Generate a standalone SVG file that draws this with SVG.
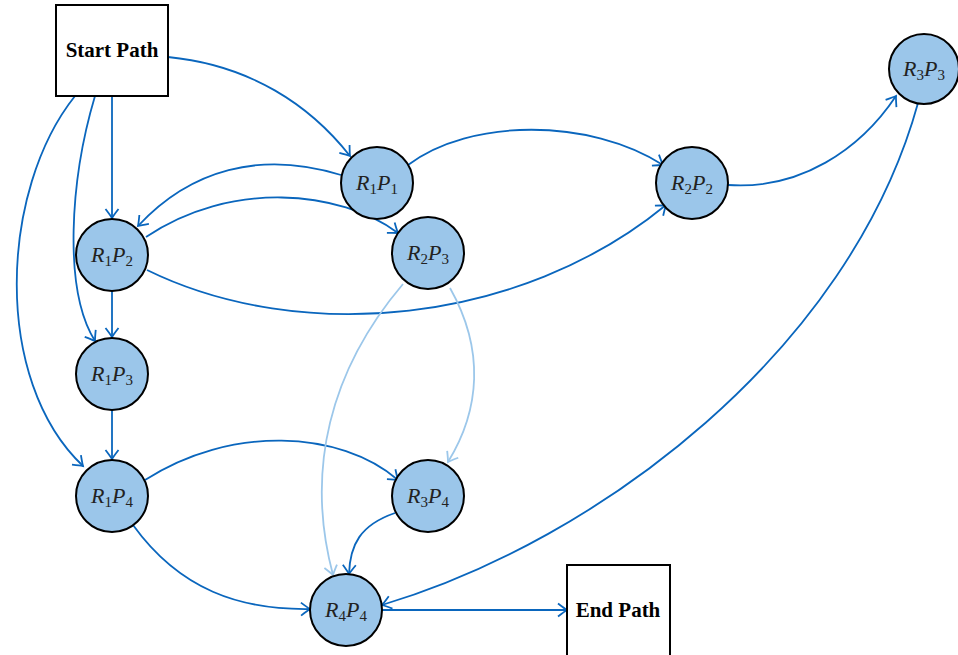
<svg xmlns="http://www.w3.org/2000/svg" width="958" height="655" viewBox="0 0 958 655">
<style>
.e{fill:none;stroke:#0a66bd;stroke-width:1.8}
.l{fill:none;stroke:#9cc7ea;stroke-width:1.8}
.n circle{fill:#9bc6ea;stroke:#000;stroke-width:2}
.b rect{fill:#fff;stroke:#000;stroke-width:2}
.t{font-family:"Liberation Serif",serif;font-style:italic;font-size:22px;fill:#222;text-anchor:middle}
.s{font-style:normal;font-size:15px}
.bt{font-family:"Liberation Serif",serif;font-weight:bold;font-size:21px;fill:#000;text-anchor:middle}
</style>
<defs>
<marker id="a" markerWidth="14" markerHeight="14" orient="auto" markerUnits="userSpaceOnUse" overflow="visible"><path d="M-9,-6.5 Q-2.5,-1.5 0,0 Q-2.5,1.5 -9,6.5" fill="none" stroke="#0a66bd" stroke-width="1.8"/></marker>
<marker id="al" markerWidth="14" markerHeight="14" orient="auto" markerUnits="userSpaceOnUse" overflow="visible"><path d="M-9,-6.5 Q-2.5,-1.5 0,0 Q-2.5,1.5 -9,6.5" fill="none" stroke="#9cc7ea" stroke-width="1.8"/></marker>
</defs>
<g id="edges">
<path class="e" marker-end="url(#a)" d="M168,57 C250,65 310,105 350,156"/>
<path class="e" marker-end="url(#a)" d="M112,96 L112,218"/>
<path class="e" marker-end="url(#a)" d="M95,96 C70,180 63,290 95,341"/>
<path class="e" marker-end="url(#a)" d="M75,96 C0,190 -8,380 83,466"/>
<path class="e" marker-end="url(#a)" d="M341,175 C260,150 190,170 138,226"/>
<path class="e" marker-end="url(#a)" d="M146,237 C230,180 340,190 398,233"/>
<path class="e" marker-end="url(#a)" d="M408,165 C470,118 590,118 663,165"/>
<path class="e" marker-end="url(#a)" d="M147,270 C300,345 520,325 666,205"/>
<path class="e" marker-end="url(#a)" d="M728,185 C800,190 860,150 896,96"/>
<path class="e" marker-end="url(#a)" d="M112,291 L112,337"/>
<path class="e" marker-end="url(#a)" d="M112,410 L112,459"/>
<path class="e" marker-end="url(#a)" d="M145,480 C230,425 340,430 398,480"/>
<path class="e" marker-end="url(#a)" d="M133,525 C180,590 240,610 310,609"/>
<path class="e" marker-end="url(#a)" d="M395,513 C360,525 350,545 349,574"/>
<path class="e" marker-end="url(#a)" d="M918,103 C850,350 600,540 382,605"/>
<path class="e" marker-end="url(#a)" d="M382,610 L567,610"/>
<path class="l" marker-end="url(#al)" d="M450,288 C485,350 480,410 448,462"/>
<path class="l" marker-end="url(#al)" d="M403,284 C330,370 305,470 333,575"/>
</g>
<g id="start" class="b"><rect x="56" y="5" width="112" height="91"/><text class="bt" x="112" y="57">Start Path</text></g>
<g id="end" class="b"><rect x="567" y="565" width="103" height="95"/><text class="bt" x="618" y="617">End Path</text></g>
<g id="R1P1" class="n"><circle cx="377" cy="183" r="36"/><text class="t" x="377" y="190">R<tspan class="s" dy="4">1</tspan><tspan dy="-4">P</tspan><tspan class="s" dy="4">1</tspan></text></g>
<g id="R2P2" class="n"><circle cx="692" cy="183" r="36"/><text class="t" x="692" y="190">R<tspan class="s" dy="4">2</tspan><tspan dy="-4">P</tspan><tspan class="s" dy="4">2</tspan></text></g>
<g id="R3P3" class="n"><circle cx="924" cy="69" r="35"/><text class="t" x="924" y="76">R<tspan class="s" dy="4">3</tspan><tspan dy="-4">P</tspan><tspan class="s" dy="4">3</tspan></text></g>
<g id="R1P2" class="n"><circle cx="112" cy="255" r="36"/><text class="t" x="112" y="262">R<tspan class="s" dy="4">1</tspan><tspan dy="-4">P</tspan><tspan class="s" dy="4">2</tspan></text></g>
<g id="R2P3" class="n"><circle cx="428" cy="253" r="36"/><text class="t" x="428" y="260">R<tspan class="s" dy="4">2</tspan><tspan dy="-4">P</tspan><tspan class="s" dy="4">3</tspan></text></g>
<g id="R1P3" class="n"><circle cx="112" cy="374" r="36"/><text class="t" x="112" y="381">R<tspan class="s" dy="4">1</tspan><tspan dy="-4">P</tspan><tspan class="s" dy="4">3</tspan></text></g>
<g id="R1P4" class="n"><circle cx="112" cy="496" r="36"/><text class="t" x="112" y="503">R<tspan class="s" dy="4">1</tspan><tspan dy="-4">P</tspan><tspan class="s" dy="4">4</tspan></text></g>
<g id="R3P4" class="n"><circle cx="428" cy="496" r="36"/><text class="t" x="428" y="503">R<tspan class="s" dy="4">3</tspan><tspan dy="-4">P</tspan><tspan class="s" dy="4">4</tspan></text></g>
<g id="R4P4" class="n"><circle cx="346" cy="610" r="36"/><text class="t" x="346" y="617">R<tspan class="s" dy="4">4</tspan><tspan dy="-4">P</tspan><tspan class="s" dy="4">4</tspan></text></g>
</svg>
